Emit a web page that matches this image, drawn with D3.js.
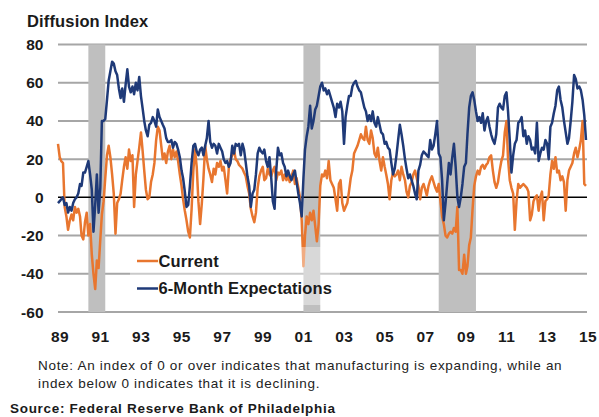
<!DOCTYPE html>
<html>
<head>
<meta charset="utf-8">
<script src="https://cdn.jsdelivr.net/npm/d3@7"></script>
<style>
  body { margin: 0; background: #fff; }
  svg text { font-family: "Liberation Sans", Arial, sans-serif; }
</style>
</head>
<body>
<svg id="chart" width="599" height="417"></svg>
<script>
// monthly values, Jan 1989 .. Jan 2015 (one row per year)
const current = [
  28, 21, 19, 18, -5, -10, -17, -12, -9, -12, -5, -8,
  -6, -10, -20, -22, -13, -8, -20, -14, -30, -40, -48, -33,
  -37, -22, -9, -2, 10, 22, 27, 21, 12, 2, -19, -3,
  -1, 2, 9, 16, 21, 15, 25, 19, 22, -5, 12, 19,
  26, 34, 25, 14, 4, -1, 0, 8, 12, 18, 30, 37,
  35, 27, 20, 23, 18, 24, 27, 20, 25, 21, 24, 19,
  12, 6, -1, -7, -12, -18, -21, -6, 14, 25, 16, -2,
  -14, -3, 10, 27, 20, 15, 12, 8, 15, 12, 18, 16,
  19, 14, 16, 9, 2, 16, 20, 22, 25, 20, 19, 17,
  16, 15, 13, 11, 6, 2, -6, -10, -13, -8, 5, 11,
  14, 16, 9, 10, 15, 12, 11, 14, 16, 9, 13, 12,
  14, 9, 12, 9, 11, 8, 11, 14, 7, 10, 5, 0,
  -12, -36, -20, -10, -14, -8, -12, -7, -15, -23, -14, 6,
  12, 11, 14, 10, 19, 9, 7, 5, -1, -7, 7, 9,
  -3, -7, -5, -3, 3, 10, 14, 23, 25, 27, 30, 33,
  31, 30, 37, 30, 28, 35, 31, 23, 21, 26, 19, 14,
  21, 16, 12, 7, -1, 9, 13, 11, 12, 14, 9, 16,
  12, 9, 3, 0, 6, 8, 12, 14, 10, 6, -1, 5,
  7, 4, 1, 6, 9, 11, 8, 5, 3, 7, -2, -10,
  -14, -20, -21, -19, -18, -19, -16, -18, -5, -38, -38, -40,
  -30, -40, -36, -25, -21, -6, 6, 11, 14, 12, 16, 17,
  15, 17, 18, 21, 22, 14, 8, 5, 8, 14, 19, 22,
  34, 40, 20, 9, 5, 2, -17, -2, 7, 5, 6, 7,
  6, 5, 3, -12, -9, -2, 0, 1, -7, 0, 3, -12,
  -2, -1, 1, 12, 19, 15, 21, 13, 14, 9, 11, 8,
  -7, 9, 14, 16, 18, 23, 26, 21, 25, 30, 40, 7,
  6
];

const expectations = [
  -3, -2, -1, 0, -4, -3, -8, -5, -7, -3, -1, 0,
  2, 7, 6, 13, 13, 16, 19, 12, 4, -18, -4, 12,
  -8, 5, 40, 40, 41, 51, 61, 66, 71, 70, 66, 64,
  57, 52, 57, 50, 59, 67, 58, 55, 58, 54, 60, 56,
  63, 53, 47, 40, 35, 32, 38, 39, 42, 40, 37, 46,
  42, 40, 38, 36, 31, 29, 29, 30, 26, 29, 28, 25,
  21, 14, 10, 3, -5, -4, 6, 18, 27, 28, 24, 22,
  25, 26, 22, 27, 31, 40, 29, 26, 28, 27, 23, 28,
  26, 24, 20, 18, 19, 16, 18, 27, 23, 28, 27, 28,
  22, 28, 25, 18, 11, 6, -5, 2, 4, 12, 23, 26,
  24, 23, 25, 19, 16, 21, 11, -2, -6, 14, 26, 22,
  23, 18, 16, 11, 14, 11, 9, 12, 14, 8, 2, -3,
  -10, 10, 25, 32, 37, 48, 36, 40, 46, 48, 53, 58,
  60, 56, 57, 54, 56, 53, 50, 47, 42, 49, 47, 50,
  45, 28, 42, 48, 53, 53, 58, 60, 61, 58, 56, 55,
  51, 47, 45, 40, 43, 40, 45, 39, 37, 42, 38, 34,
  33, 28, 29, 26, 25, 18, 12, 15, 22, 30, 38, 33,
  27, 20, 15, 10, 12, 9, 6, 2, -1, 14, 17, 22,
  24, 23, 22, 21, 30, 25, 27, 33, 40, 23, 21, 9,
  -12, -3, 7, 18, 12, 21, 28, 16, 0, -5, 0, 7,
  16, 18, 33, 47, 53, 55, 51, 45, 40, 42, 39, 44,
  35, 40, 42, 37, 33, 30, 28, 33, 47, 49, 47, 46,
  53, 55, 45, 30, 13, 22, 28, 30, 39, 40, 42, 32,
  35, 28, 32, 30, 25, 26, 23, 39, 19, 23, 26, 25,
  30, 28, 20, 37, 39, 44, 48, 56, 58, 51, 47, 40,
  34, 28, 31, 40, 50, 64, 62, 57, 58, 56, 51, 43,
  30
];

// recession shading [start, end]
const recessions = [
  ["1990-07", "1991-05"],
  ["2001-02", "2001-12"],
  ["2007-10", "2009-08"]
];

const yTicks = [80, 60, 40, 20, 0, -20, -40, -60];
const xTickYears = [1989, 1991, 1993, 1995, 1997, 1999, 2001, 2003, 2005, 2007, 2009, 2011, 2013, 2015];

const orange = "#e8762f";
const navy = "#1f3a78";

const svg = d3.select("#chart");
const parseMonth = d3.timeParse("%Y-%m");

const x = d3.scaleTime()
  .domain([new Date(1989, 0, 1), new Date(2015, 0, 1)])
  .range([58, 586]);
const y = d3.scaleLinear()
  .domain([-60, 80])
  .range([312, 44.5]);

const toPoints = arr => arr.map((v, i) => ({ date: new Date(1989, i, 1), value: v }));

// gridlines
svg.append("g")
  .selectAll("line")
  .data(yTicks.filter(d => d !== 0))
  .join("line")
  .attr("x1", 58).attr("x2", 587)
  .attr("y1", d => y(d)).attr("y2", d => y(d))
  .attr("stroke", "#a6a6a6")
  .attr("stroke-width", 2);

// recession bars
svg.append("g")
  .selectAll("rect")
  .data(recessions)
  .join("rect")
  .attr("x", d => x(parseMonth(d[0])))
  .attr("width", d => x(parseMonth(d[1])) - x(parseMonth(d[0])))
  .attr("y", y(80))
  .attr("height", y(-60) - y(80))
  .attr("fill", "#bfbfbf");

// zero line
svg.append("line")
  .attr("x1", 58).attr("x2", 587)
  .attr("y1", y(0)).attr("y2", y(0))
  .attr("stroke", "#000")
  .attr("stroke-width", 1.5);

const line = d3.line()
  .x(d => x(d.date))
  .y(d => y(d.value));

svg.append("path")
  .datum(toPoints(current))
  .attr("d", line)
  .attr("fill", "none")
  .attr("stroke", orange)
  .attr("stroke-width", 2.5)
  .attr("stroke-linejoin", "round");

svg.append("path")
  .datum(toPoints(expectations))
  .attr("d", line)
  .attr("fill", "none")
  .attr("stroke", navy)
  .attr("stroke-width", 2.5)
  .attr("stroke-linejoin", "round");

// y tick labels
svg.append("g")
  .selectAll("text")
  .data(yTicks)
  .join("text")
  .attr("x", 43.5)
  .attr("y", d => y(d) + 5.5)
  .attr("text-anchor", "end")
  .attr("font-size", 15.5)
  .attr("font-weight", "bold")
  .attr("fill", "#1a1a1a")
  .text(d => d);

// x tick labels
svg.append("g")
  .selectAll("text")
  .data(xTickYears)
  .join("text")
  .attr("x", d => x(new Date(d, 0, 1)) + 2)
  .attr("y", 342)
  .attr("text-anchor", "middle")
  .attr("font-size", 15.5)
  .attr("font-weight", "bold")
  .attr("letter-spacing", 0.5)
  .attr("fill", "#1a1a1a")
  .text(d => d3.timeFormat("%y")(new Date(d, 0, 1)));

// title
svg.append("text")
  .attr("x", 27)
  .attr("y", 26.5)
  .attr("font-size", 16.5)
  .attr("font-weight", "bold")
  .attr("letter-spacing", 0.15)
  .attr("fill", "#1a1a1a")
  .text("Diffusion Index");

// legend (semi transparent box over the plot)
const legend = svg.append("g");
legend.append("rect")
  .attr("x", 130).attr("y", 247)
  .attr("width", 210).attr("height", 58)
  .attr("fill", "#fff")
  .attr("fill-opacity", 0.4);

const legendItems = [
  { label: "Current", color: orange, y: 261 },
  { label: "6-Month Expectations", color: navy, y: 288.5 }
];
legend.selectAll("line")
  .data(legendItems)
  .join("line")
  .attr("x1", 137).attr("x2", 158)
  .attr("y1", d => d.y).attr("y2", d => d.y)
  .attr("stroke", d => d.color)
  .attr("stroke-width", 2.5);
legend.selectAll("text")
  .data(legendItems)
  .join("text")
  .attr("x", 158.5)
  .attr("y", d => d.y + 5.8)
  .attr("font-size", 16.5)
  .attr("font-weight", "bold")
  .attr("letter-spacing", 0.1)
  .attr("fill", "#1a1a1a")
  .text(d => d.label);

// notes
const noteStyle = sel => sel
  .attr("font-size", 13.5)
  .attr("letter-spacing", 0.7)
  .attr("fill", "#222");
svg.append("text")
  .attr("x", 38).attr("y", 370)
  .call(noteStyle)
  .text("Note: An index of 0 or over indicates that manufacturing is expanding, while an");
svg.append("text")
  .attr("x", 38).attr("y", 388)
  .call(noteStyle)
  .text("index below 0 indicates that it is declining.");
svg.append("text")
  .attr("x", 10).attr("y", 413)
  .attr("font-size", 13.5)
  .attr("font-weight", "bold")
  .attr("letter-spacing", 0.7)
  .attr("fill", "#1a1a1a")
  .text("Source: Federal Reserve Bank of Philadelphia");
</script>
</body>
</html>
